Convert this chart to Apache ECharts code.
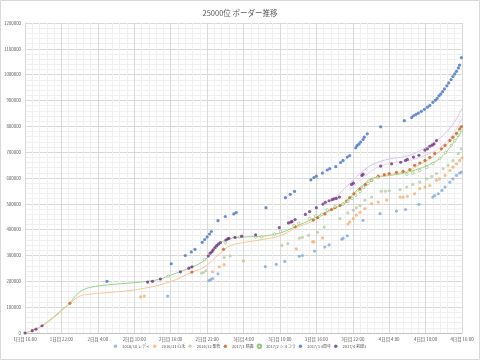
<!DOCTYPE html>
<html><head><meta charset="utf-8">
<script src="https://cdn.jsdelivr.net/npm/echarts@6/dist/echarts.min.js"></script>
<style>html,body{margin:0;padding:0;background:#fff}#c{width:480px;height:360px}</style>
</head><body><div id="c"></div>
<script>
// ---- tick labels (x axis: hours since 1日目 16:00) ----
const xTickLabels = ['1日目 16:00','1日目 22:00','2日目 4:00','2日目 10:00','2日目 16:00','2日目 22:00','3日目 4:00','3日目 10:00','3日目 16:00','3日目 22:00','4日目 4:00','4日目 10:00','4日目 16:00'];
const seriesNames = ['2016/10 レディ','2016/11 心禾','2016/12 聖夜','2017/1 晴義','2017/2 ショコラ','2017/3 4周年','2017/4 莉燈3'];

// ---- marker series: [hour, border] ----
const lady201610 = [[23.5,143000],[30.3,203000],[30.6,207000],[30.9,211000],[31.8,229000],[39.6,257000],[41.4,266000],[42.8,277000],[45.2,297000],[45.7,300000],[47.7,317000],[49.4,333000],[50.1,341000],[52.2,363000],[52.4,367000],[53.1,376000],[55.7,436000],[58.5,462000],[61.2,472000],[62.7,478000],[64.9,498000],[67.2,526000],[67.5,532000],[68.1,539000],[68.7,552000],[69.2,565000],[70.0,584000],[70.5,597000],[71.1,610000],[71.6,619000],[71.9,623000]];
const shinwa201611 = [[19.05,140000],[19.65,143000],[30.9,237000],[32.0,256000],[32.8,265000],[36.0,279000],[44.7,326000],[47.4,353000],[47.6,353000],[49.0,368000],[53.2,422000],[53.5,430000],[54.1,443000],[54.6,456000],[55.2,467000],[56.0,482000],[57.1,501000],[58.2,507000],[59.6,514000],[61.8,526000],[62.3,526000],[63.0,529000],[64.2,539000],[65.05,559000],[65.9,565000],[66.7,571000],[67.8,591000],[68.3,597000],[69.2,610000],[70.0,629000],[70.5,642000],[71.1,655000],[71.6,668000],[72.0,678000]];
const seiya201612 = [[29.1,232000],[29.4,234000],[29.8,241000],[32.8,292000],[33.8,298000],[42.3,339000],[43.3,346000],[45.2,367000],[45.7,370000],[46.7,378000],[48.2,390000],[49.3,410000],[51.9,443000],[53.2,465000],[54.1,475000],[54.6,485000],[55.2,493000],[56.0,514000],[57.1,526000],[58.7,549000],[59.4,549000],[60.0,551000],[61.8,555000],[62.9,565000],[63.9,575000],[65.05,584000],[66.2,597000],[67.0,606000],[67.8,617000],[68.9,636000],[69.7,649000],[70.5,668000],[71.4,694000],[71.9,713000]];
const haruyoshi201701 = [[7.4,115000],[27.5,236000],[32.7,324000],[44.5,412000],[47.5,437000],[48.2,447000],[49.4,461000],[50.5,478000],[51.1,486000],[51.9,494000],[53.0,511000],[53.5,524000],[54.2,539000],[55.2,557000],[56.1,574000],[57.1,591000],[58.2,607000],[59.2,613000],[60.0,617000],[61.2,622000],[62.3,626000],[63.4,633000],[64.2,649000],[65.05,658000],[65.9,668000],[66.7,680000],[67.5,695000],[68.6,713000],[69.2,726000],[70.0,745000],[70.5,758000],[71.1,773000],[71.6,790000],[71.9,799000]];
const chocola201702 = [[23.6,220000],[29.6,285000],[31.5,333000],[33.0,349000],[35.4,372000],[38.0,371000],[39.0,372000],[41.1,383000],[42.1,393000],[44.3,416000],[45.1,425000],[46.9,443000],[47.9,453000],[48.9,459000],[49.8,476000],[51.1,489000],[52.4,499000],[53.2,510000],[53.9,521000],[54.5,533000],[55.2,548000],[55.8,564000],[56.5,579000],[57.1,591000],[58.1,602000],[62.9,614000],[63.9,620000],[65.05,629000],[66.2,641000],[67.2,656000],[68.3,676000],[69.3,699000],[70.2,726000],[70.8,745000],[71.3,765000],[71.9,784000]];
const anniv201703 = [[13.5,200000],[24.1,268000],[26.4,300000],[27.4,314000],[28.0,324000],[29.2,351000],[29.6,362000],[30.0,372000],[30.4,383000],[30.7,393000],[31.8,435000],[33.0,451000],[34.4,461000],[34.8,466000],[39.7,485000],[42.9,524000],[43.7,537000],[44.4,548000],[47.1,593000],[47.6,602000],[48.0,607000],[49.0,619000],[49.8,631000],[50.2,636000],[51.2,644000],[52.0,660000],[52.4,668000],[53.1,681000],[53.5,687000],[54.5,717000],[54.7,725000],[55.0,731000],[55.3,739000],[55.7,749000],[55.9,758000],[56.4,771000],[58.6,798000],[62.5,822000],[63.7,834000],[64.0,841000],[64.4,846000],[64.8,851000],[65.3,858000],[65.8,866000],[66.3,874000],[66.7,881000],[67.2,893000],[67.6,901000],[67.9,908000],[68.2,918000],[68.5,925000],[68.8,934000],[69.1,945000],[69.5,957000],[69.8,968000],[70.2,981000],[70.5,993000],[70.8,1003000],[71.1,1013000],[71.4,1026000],[71.6,1037000],[71.9,1066000]];
const rito201704 = [[0,0],[1.2,9000],[1.8,15000],[2.8,28000],[20.2,197000],[21.0,200000],[22.3,209000],[25.6,237000],[27.0,251000],[27.5,256000],[30.2,298000],[30.5,309000],[30.8,315000],[31.0,322000],[31.3,331000],[31.6,339000],[31.9,345000],[32.2,350000],[33.1,360000],[33.4,364000],[33.6,366000],[34.6,370000],[35.7,375000],[38.0,380000],[41.9,408000],[43.4,426000],[43.8,429000],[44.0,432000],[44.5,439000],[46.2,459000],[46.9,470000],[48.0,485000],[49.1,499000],[49.5,506000],[50.1,512000],[50.6,516000],[50.9,519000],[51.3,521000],[51.8,526000],[53.8,575000],[54.1,580000],[55.5,610000],[55.7,615000],[58.6,646000],[60.4,655000],[61.9,661000],[62.7,668000],[63.0,672000],[64.0,681000],[64.9,688000],[65.9,708000],[66.3,713000],[66.7,723000],[67.1,727000],[67.4,732000],[67.8,745000]];

// ---- reference curves (no legend entries) ----
const greenCurve = [[0,0],[1.2,9700],[2.8,28000],[4.5,58000],[6.0,88000],[7.4,117000],[8.5,148000],[9.5,166000],[11.0,178000],[13.5,186000],[16.5,192000],[19.0,197000],[22.0,207000],[23.6,220000],[25.5,237000],[27.5,255000],[29.6,282000],[32.1,346000],[33.8,366000],[36.5,372000],[39.2,375000],[42.0,387000],[44.7,413000],[47.5,443000],[50.2,475000],[52.7,502000],[53.5,521000],[54.3,544000],[55.2,564000],[56.0,579000],[56.8,595000],[58.1,604000],[60.1,610000],[62.3,618000],[65.05,637000],[66.7,653000],[67.9,668000],[69.2,695000],[70.5,734000],[71.3,757000],[72.0,784000]];
const orangeCurve = [[0,0],[1.2,9000],[2.8,27000],[4.5,55000],[6.0,85000],[7.4,115000],[8.8,140000],[10.2,149000],[13.5,156000],[18.9,170000],[23.9,198000],[27.5,236000],[29.6,256000],[32.1,308000],[33.8,338000],[36.5,352000],[39.2,362000],[42.0,376000],[44.5,405000],[47.5,435000],[49.4,461000],[51.9,494000],[53.5,524000],[55.2,557000],[57.1,591000],[58.2,604000],[60.0,613000],[62.3,622000],[63.4,630000],[65.0,652000],[67.0,678000],[68.6,710000],[70.0,743000],[71.1,772000],[72.0,800000]];
const lavenderUpper = [[50.7,517000],[52.7,560000],[54.3,598000],[56.0,633000],[57.6,656000],[60.1,674000],[62.6,683000],[65.05,705000],[67.5,741000],[69.2,772000],[70.8,818000],[72.0,869000]];
const lavenderLower = [[53.5,552000],[55.2,591000],[56.8,622000],[58.5,645000],[60.9,660000],[63.4,668000],[65.9,687000],[67.9,710000],[69.5,741000],[70.8,780000],[72.0,830000]];

const FONT = '"Noto Sans CJK JP","Noto Sans",sans-serif';
const TXT = '#595959';
const chart = echarts.init(document.getElementById('c'), null, {renderer:'canvas'});

function lineSeries(data, color){
  return {type:'line', data:data, smooth:0.4, showSymbol:false, silent:true, z:1,
    lineStyle:{color:color, width:1}, itemStyle:{color:color}, legendHoverLink:false};
}
function dotSeries(name, data, color, hollow){
  return {name:name, type:'scatter', data:data, z:3,
    symbol:'circle', symbolSize: hollow ? 2.6 : 3.2,
    itemStyle: hollow ? {color:'#ffffff', borderColor:color, borderWidth:0.7} : {color:color, borderWidth:0}};
}

const colors = ['#80a9db','#efb272','#b6cda6','#c85f1b','#7bb560','#4472c4','#722f86'];
const seriesData = [lady201610, shinwa201611, seiya201612, haruyoshi201701, chocola201702, anniv201703, rito201704];

chart.setOption({
  animation:false,
  backgroundColor:'#fff',
  textStyle:{fontFamily:FONT},
  title:{text:'25000位 ボーダー推移', left:'center', top:4,
    textStyle:{fontSize:7.5, fontWeight:'normal', color:TXT, fontFamily:FONT}},
  legend:{data:seriesNames, bottom:6, left:'center', itemWidth:3.5, itemHeight:3.5, itemGap:3,
    textStyle:{fontSize:4.0, color:TXT, fontFamily:FONT}},
  grid:{left:25, right:18, top:23, bottom:27, containLabel:false},
  xAxis:{type:'value', min:0, max:72, interval:6,
    axisLine:{show:true, lineStyle:{color:'#bfbfbf', width:1}},
    axisTick:{show:false},
    axisLabel:{fontSize:4.4, color:TXT, margin:4, fontFamily:FONT,
      formatter:function(v){ return xTickLabels[Math.round(v/6)] || ''; }},
    splitLine:{show:true, lineStyle:{color:'#d9d9d9', width:1}},
    minorTick:{show:false, splitNumber:5},
    minorSplitLine:{show:true, lineStyle:{color:'#f0f0f0', width:1}}},
  yAxis:{type:'value', min:0, max:1200000, interval:100000,
    axisLine:{show:true, lineStyle:{color:'#d9d9d9', width:1}},
    axisTick:{show:false},
    axisLabel:{fontSize:4.4, color:TXT, margin:4, fontFamily:FONT,
      formatter:function(v){ return String(v); }},
    splitLine:{show:true, lineStyle:{color:'#d9d9d9', width:1}},
    minorTick:{show:false, splitNumber:5},
    minorSplitLine:{show:true, lineStyle:{color:'#f0f0f0', width:1}}},
  graphic:[{type:'rect', shape:{x:0.5, y:0.5, width:479, height:359}, style:{fill:null, stroke:'#d9d9d9', lineWidth:1}, silent:true}],
  series:[
    lineSeries(greenCurve, '#9ccf86'),
    lineSeries(orangeCurve, '#f7c797'),
    lineSeries(lavenderUpper, '#dcc4f2'),
    lineSeries(lavenderLower, '#e6d6f5')
  ].concat(seriesNames.map(function(n,i){ return dotSeries(n, seriesData[i], colors[i], i===4); }))
});
</script></body></html>
